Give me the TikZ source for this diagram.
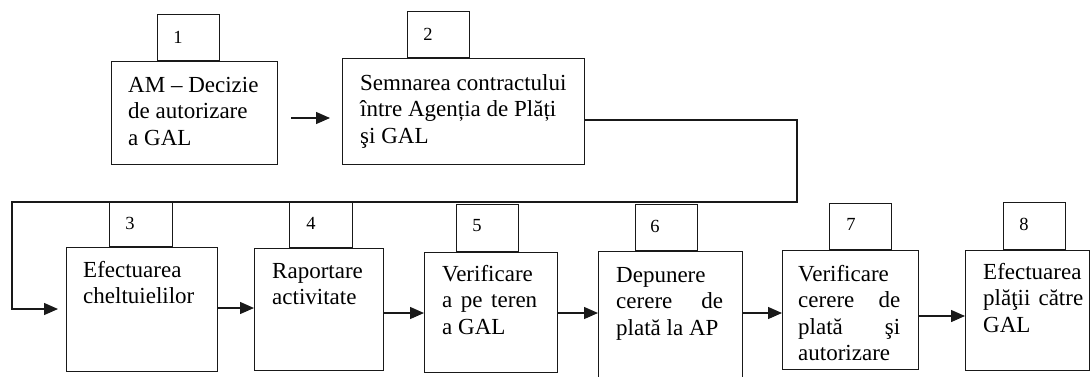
\documentclass[tikz,border=0pt]{standalone}
\usepackage{fontspec}
\setmainfont{Liberation Serif}
\usetikzlibrary{arrows.meta}
\tikzset{
  x=1pt, y=-1pt,
  stepbox/.style={draw=black!90, line width=1.3pt, inner sep=0pt, fill=none},
  num/.style={inner sep=0pt, font=\fontsize{18.5}{20}\selectfont},
  txt/.style={inner sep=0pt, anchor=base west, font=\fontsize{23}{26.5}\selectfont},
  arr/.style={draw=black!90, line width=1.3pt, -{Triangle[length=14pt,width=12pt]}},
}
\newcommand{\txtbox}[1]{\parbox[t]{140pt}{\raggedright #1}}
\begin{document}
\begin{tikzpicture}
\path[use as bounding box, clip] (0,0) rectangle (1091,376);
\fill[white] (0,0) rectangle (1091,376);
% row 1
\node[stepbox, anchor=north west, minimum width=166pt, minimum height=103pt] (b1) at (111,61) {};
\node[stepbox, anchor=north west, minimum width=242pt, minimum height=106pt] (b2) at (342,58) {};
\node[stepbox, anchor=south west, minimum width=62pt, minimum height=46pt] (t1) at (157,61) {};
\node[stepbox, anchor=south west, minimum width=62pt, minimum height=46pt] (t2) at (407,58) {};
% row 2
\node[stepbox, anchor=north west, minimum width=151pt, minimum height=124pt] (b3) at (66,247) {};
\node[stepbox, anchor=north west, minimum width=129pt, minimum height=122pt] (b4) at (254,248) {};
\node[stepbox, anchor=north west, minimum width=133pt, minimum height=120pt] (b5) at (424,252) {};
\node[stepbox, anchor=north west, minimum width=144pt, minimum height=149pt] (b6) at (598,251) {};
\node[stepbox, anchor=north west, minimum width=136pt, minimum height=119pt] (b7) at (782,250) {};
\node[stepbox, anchor=north west, minimum width=124pt, minimum height=120pt] (b8) at (965,250) {};
\node[stepbox, anchor=south west, minimum width=63pt, minimum height=45pt] (t3) at (109,247) {};
\node[stepbox, anchor=south west, minimum width=63pt, minimum height=46pt] (t4) at (289,248) {};
\node[stepbox, anchor=south west, minimum width=62pt, minimum height=47pt] (t5) at (456,252) {};
\node[stepbox, anchor=south west, minimum width=62pt, minimum height=46pt] (t6) at (635,251) {};
\node[stepbox, anchor=south west, minimum width=62pt, minimum height=46pt] (t7) at (829,250) {};
\node[stepbox, anchor=south west, minimum width=62pt, minimum height=47pt] (t8) at (1003,250) {};
% numbers
\node[num] (n1) at (178,37) {1};
\node[num] (n2) at (428,34) {2};
\node[num] (n3) at (130,223) {3};
\node[num] (n4) at (311,223) {4};
\node[num] (n5) at (477,226) {5};
\node[num] (n6) at (655,226) {6};
\node[num] (n7) at (851,224) {7};
\node[num] (n8) at (1024,224) {8};
% texts
\node[txt] (x1) at (128,92) {\txtbox{AM – Decizie\\de autorizare\\a GAL}};
\node[txt] (x2) at (360,90) {\parbox[t]{220pt}{\raggedright Semnarea contractului\\între Agenția de Plăți\\şi GAL}};
\node[txt] (x3) at (83,277) {\txtbox{Efectuarea\\cheltuielilor}};
\node[txt] (x4) at (272,278) {\txtbox{Raportare\\activitate}};
\node[txt] (x5) at (442,281) {\txtbox{Verificare\\\makebox[95pt][s]{a pe teren}\\a GAL}};
\node[txt] (x6) at (616,282) {\txtbox{Depunere\\\makebox[107pt][s]{cerere de}\\plată la AP}};
\node[txt] (x7) at (798,281) {\txtbox{Verificare\\\makebox[102pt][s]{cerere de}\\\makebox[102pt][s]{plată şi}\\autorizare}};
\node[txt] (x8) at (983,279) {\txtbox{Efectuarea\\\makebox[100pt][s]{plăţii către}\\GAL}};
% connectors
\coordinate (c1) at (797,202);
\coordinate (c2) at (12,309);
\draw[arr, shorten <=13pt, shorten >=12pt] (b1.east |- 0,118) -- (b2.west |- 0,118);
\draw[arr, shorten >=8pt] (b2.east |- 0,120) -| (c1) -| (c2) -- (b3.west |- c2);
\draw[arr] (b3.east |- 0,308) -- (b4.west |- 0,308);
\draw[arr] (b4.east |- 0,313) -- (b5.west |- 0,313);
\draw[arr] (b5.east |- 0,313) -- (b6.west |- 0,313);
\draw[arr] (b6.east |- 0,313) -- (b7.west |- 0,313);
\draw[arr] (b7.east |- 0,316) -- (b8.west |- 0,316);
\end{tikzpicture}
\end{document}
